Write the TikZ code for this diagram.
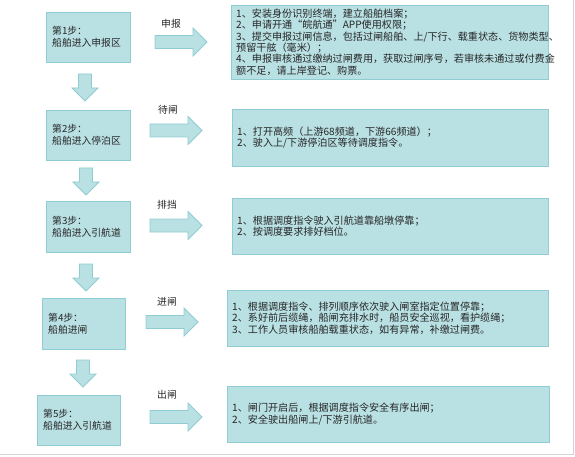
\documentclass[tikz,border=0pt]{standalone}
\usepackage{fontspec}
\setmainfont{Noto Sans CJK SC}
\definecolor{boxfill}{HTML}{B9E0E3}
\definecolor{boxline}{HTML}{8FCDD2}
\definecolor{frameline}{HTML}{D4D4D4}
\tikzset{
  stepbox/.style={draw=boxline, fill=boxfill, line width=0.9pt},
  descbox/.style={draw=boxline, fill=boxfill, line width=0.9pt},
  blockarrow/.style={draw=boxline, fill=boxfill, line width=0.8pt, line join=miter},
  txt/.style={font=\fontsize{9.8}{12}\selectfont, align=left, inner sep=0pt, anchor=west, text=black!85},
  dtxt/.style={font=\fontsize{10.1}{11.4}\selectfont, align=left, inner sep=0pt, anchor=west, text=black!85},
  lbl/.style={font=\fontsize{9.8}{11}\selectfont, inner sep=0pt, anchor=west, text=black!85},
  rarrow/.pic={\draw[blockarrow] (0,-6.5) -- (38,-6.5) -- (38,-14) -- (52,0) -- (38,14) -- (38,6.5) -- (0,6.5) -- cycle;},
  darrow/.pic={\draw[blockarrow] (-6.5,0) -- (-6.5,14) -- (-13,14) -- (0,27) -- (13,14) -- (6.5,14) -- (6.5,0) -- cycle;}
}
\begin{document}
\begin{tikzpicture}[x=1pt,y=-1pt]
\useasboundingbox (0,0) rectangle (575,457);
\fill[white] (0,0) rectangle (575,457);
% frame lines
\draw[frameline, line width=1.5pt] (573.5,0) -- (573.5,454.5) -- (0,454.5);

% step boxes
\draw[stepbox] (46,12) rectangle (130,62);
\node[txt] (s1) at (52,37) {第1步：\\船舶进入申报区};
\draw[stepbox] (46,110) rectangle (130,160);
\node[txt] (s2) at (52,135) {第2步：\\船舶进入停泊区};
\draw[stepbox] (46,201) rectangle (130,252);
\node[txt] (s3) at (52,226.5) {第3步：\\船舶进入引航道};
\draw[stepbox] (42,298) rectangle (125,349);
\node[txt] (s4) at (48,323.5) {第4步：\\船舶进闸};
\draw[stepbox] (37,395) rectangle (120,445);
\node[txt] (s5) at (43,420) {第5步：\\船舶进入引航道};

% down arrows
\pic (d1) at (85,74) {darrow};
\pic (d2) at (86,168) {darrow};
\pic (d3) at (86,264) {darrow};
\pic (d4) at (83,360) {darrow};

% right arrows
\pic (r1) at (155,42) {rarrow};
\pic (r2) at (150,130.5) {rarrow};
\pic (r3) at (150,225.5) {rarrow};
\pic (r4) at (146,322) {rarrow};
\pic (r5) at (150,417) {rarrow};

% labels
\node[lbl] (l1) at (161,24) {申报};
\node[lbl] (l2) at (158,110) {待闸};
\node[lbl] (l3) at (157,205) {排挡};
\node[lbl] (l4) at (157,302) {进闸};
\node[lbl] (l5) at (157,395) {出闸};

% description boxes
\draw[descbox] (231,5) rectangle (548,79);
\node[dtxt] (t1) at (236,42) {1、安装身份识别终端，建立船舶档案；\\2、申请开通“皖航通”APP使用权限；\\3、提交申报过闸信息，包括过闸船舶、上/下行、载重状态、货物类型、\\预留干舷（毫米）；\\4、申报审核通过缴纳过闸费用，获取过闸序号，若审核未通过或付费金\\额不足，请上岸登记、购票。};
\draw[descbox] (232,109) rectangle (548,166);
\node[dtxt] (t2) at (237,137.5) {1、打开高频（上游68频道，下游66频道）；\\2、驶入上/下游停泊区等待调度指令。};
\draw[descbox] (232,198) rectangle (548,254);
\node[dtxt] (t3) at (237,226) {1、根据调度指令驶入引航道靠船墩停靠；\\2、按调度要求排好档位。};
\draw[descbox] (227,290) rectangle (548,346);
\node[dtxt] (t4) at (232,318) {1、根据调度指令、排列顺序依次驶入闸室指定位置停靠；\\2、系好前后缆绳，船闸充排水时，船员安全巡视，看护缆绳；\\3、工作人员审核船舶载重状态，如有异常，补缴过闸费。};
\draw[descbox] (227,386) rectangle (549,442);
\node[dtxt] (t5) at (232,414) {1、闸门开启后，根据调度指令安全有序出闸；\\2、安全驶出船闸上/下游引航道。};
\end{tikzpicture}
\end{document}
